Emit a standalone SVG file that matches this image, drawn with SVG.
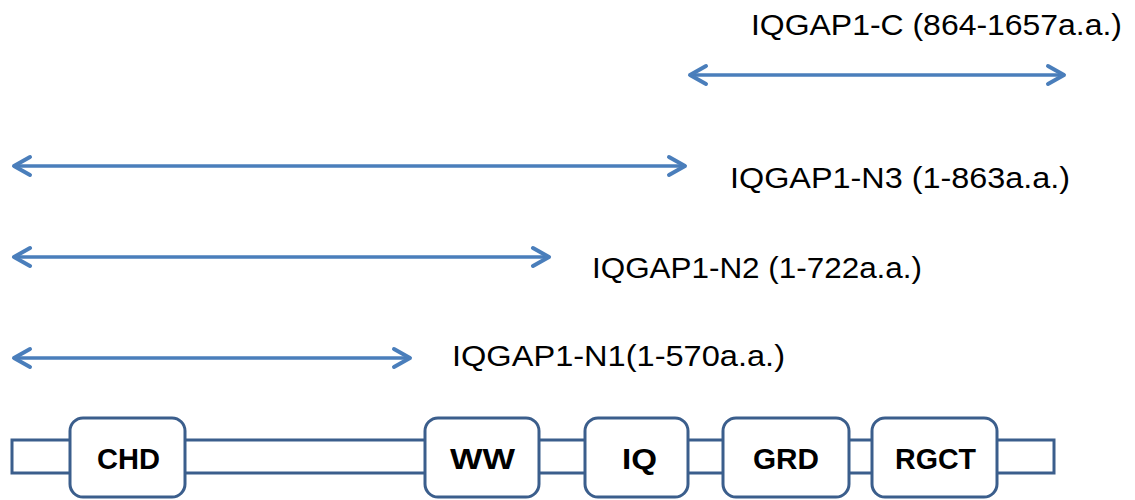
<svg xmlns="http://www.w3.org/2000/svg" width="1135" height="500" viewBox="0 0 1135 500">
  <style>
    .label { font-family: "Liberation Sans", Arial, sans-serif; font-size: 29px; fill: #000; }
    .domain { fill: #fff; stroke: #3b5e8c; stroke-width: 3; }
    .dname { font-family: "Liberation Sans", Arial, sans-serif; font-size: 29px; font-weight: bold; fill: #000; }
    .range { stroke: #4a7ebb; stroke-width: 3.5; fill: none; marker-start: url(#open); marker-end: url(#open); }
  </style>
  <defs>
    <marker id="open" markerUnits="userSpaceOnUse" markerWidth="24" markerHeight="24" viewBox="-20 -12 24 24" refX="0" refY="0" orient="auto-start-reverse">
      <path d="M-16,-9 L0,0 L-16,9" fill="none" stroke="#4a7ebb" stroke-width="4" stroke-linecap="round" stroke-linejoin="round"/>
    </marker>
  </defs>

  <rect width="1135" height="500" fill="#fff"/>

  <!-- fragment ranges -->
  <g id="connectors">
    <line class="range" x1="690" y1="75" x2="1064" y2="75"/>
    <line class="range" x1="14" y1="166" x2="685" y2="166"/>
    <line class="range" x1="14" y1="257" x2="549" y2="257"/>
    <line class="range" x1="14" y1="358" x2="410" y2="358"/>
  </g>

  <g id="label-c">
    <text class="label" x="751" y="35" textLength="371" lengthAdjust="spacingAndGlyphs">IQGAP1-C (864-1657a.a.)</text>
  </g>
  <g id="label-n3">
    <text class="label" x="730" y="188" textLength="340" lengthAdjust="spacingAndGlyphs">IQGAP1-N3 (1-863a.a.)</text>
  </g>
  <g id="label-n2">
    <text class="label" x="592" y="278" textLength="330" lengthAdjust="spacingAndGlyphs">IQGAP1-N2 (1-722a.a.)</text>
  </g>
  <g id="label-n1">
    <text class="label" x="452" y="366" textLength="333" lengthAdjust="spacingAndGlyphs">IQGAP1-N1(1-570a.a.)</text>
  </g>

  <!-- protein backbone -->
  <g id="backbone">
    <rect class="domain" x="12" y="440" width="1042" height="33"/>
  </g>

  <!-- domains -->
  <g id="chd">
    <rect class="domain" x="70" y="418" width="115" height="79" rx="13"/>
    <text class="dname" x="97" y="469" textLength="63" lengthAdjust="spacingAndGlyphs">CHD</text>
  </g>
  <g id="ww">
    <rect class="domain" x="425" y="418" width="114" height="79" rx="13"/>
    <text class="dname" x="450" y="469" textLength="65" lengthAdjust="spacingAndGlyphs">WW</text>
  </g>
  <g id="iq">
    <rect class="domain" x="585" y="418" width="103" height="79" rx="13"/>
    <text class="dname" x="622" y="469" textLength="35" lengthAdjust="spacingAndGlyphs">IQ</text>
  </g>
  <g id="grd">
    <rect class="domain" x="723" y="418" width="126" height="79" rx="13"/>
    <text class="dname" x="753" y="469" textLength="66" lengthAdjust="spacingAndGlyphs">GRD</text>
  </g>
  <g id="rgct">
    <rect class="domain" x="872" y="418" width="125" height="79" rx="13"/>
    <text class="dname" x="895" y="469" textLength="81" lengthAdjust="spacingAndGlyphs">RGCT</text>
  </g>
</svg>
